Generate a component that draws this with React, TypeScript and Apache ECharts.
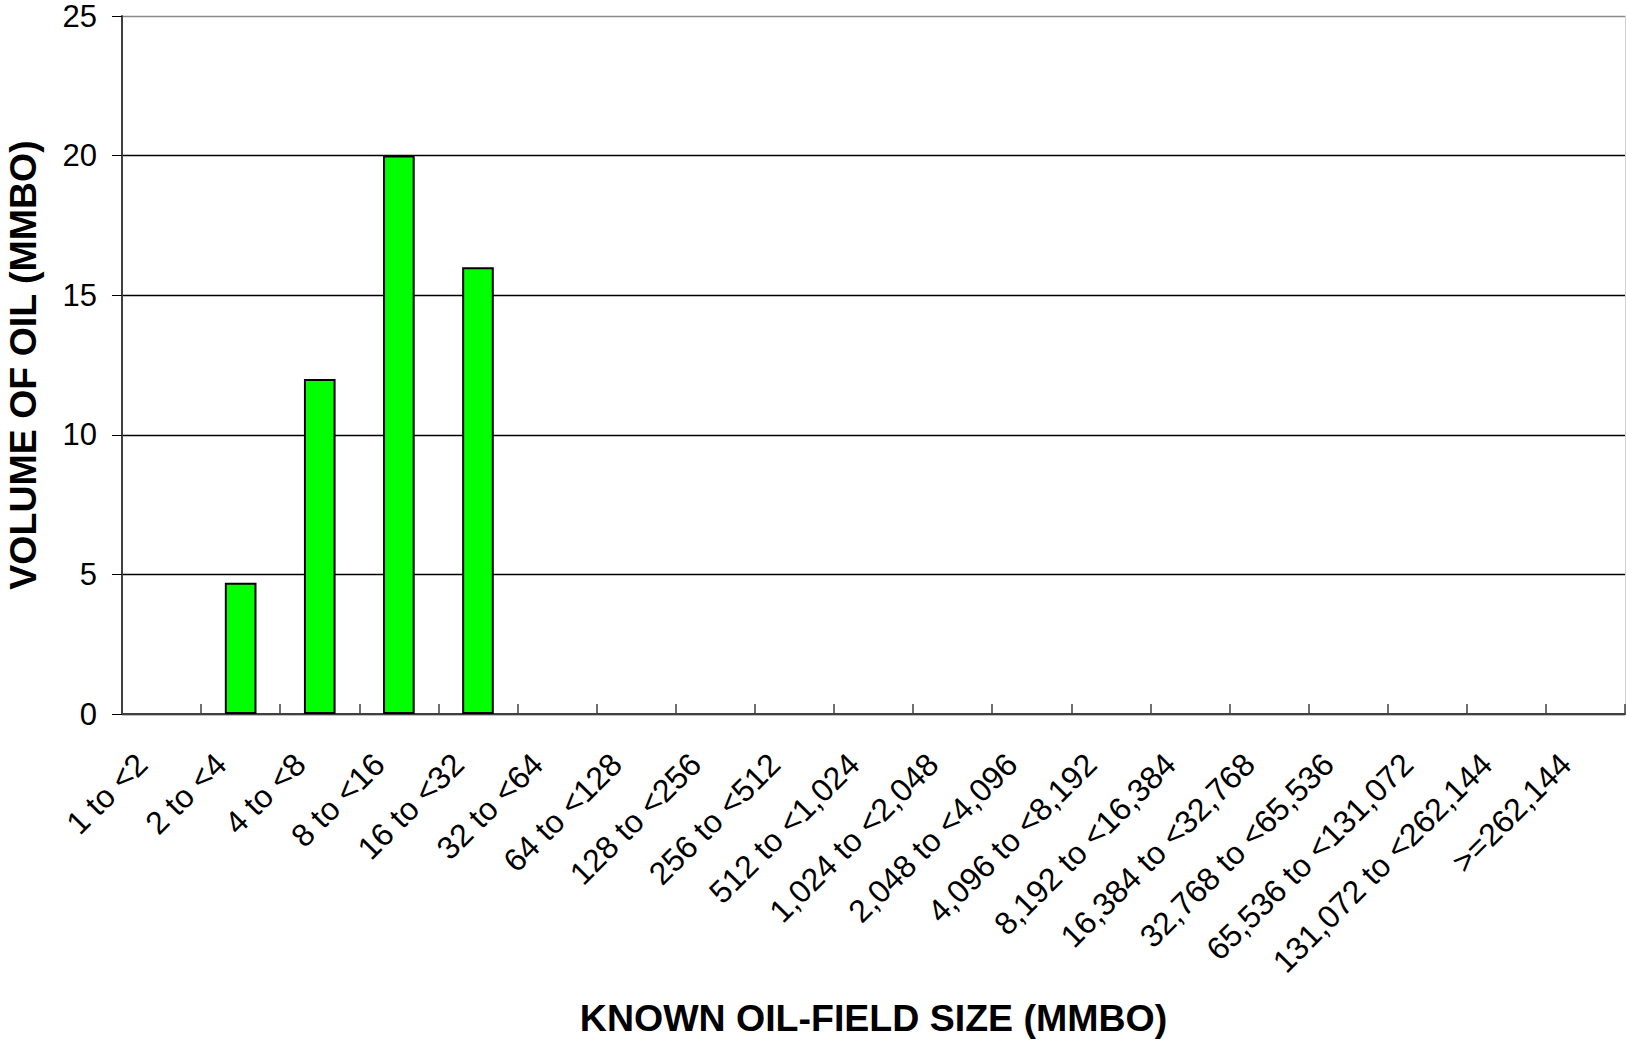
import React, { useEffect, useRef } from "react";
import * as echarts from "echarts";

const categories = [
  "1 to <2", "2 to <4", "4 to <8", "8 to <16", "16 to <32", "32 to <64",
  "64 to <128", "128 to <256", "256 to <512", "512 to <1,024",
  "1,024 to <2,048", "2,048 to <4,096", "4,096 to <8,192",
  "8,192 to <16,384", "16,384 to <32,768", "32,768 to <65,536",
  "65,536 to <131,072", "131,072 to <262,144", ">=262,144",
];
const volumes = [0, 4.7, 12, 20, 16, 0, 0, 0, 0, 0, 0, 0, 0, 0, 0, 0, 0, 0, 0];
const yTicks = { min: 0, max: 25, interval: 5 };
const xTitle = "KNOWN OIL-FIELD SIZE (MMBO)";
const yTitle = "VOLUME OF OIL (MMBO)";

const FONT = "'Liberation Sans', Arial, sans-serif";

export default function App() {
  const ref = useRef<HTMLDivElement>(null);
  useEffect(() => {
    if (!ref.current) return;
    const chart = echarts.init(ref.current, undefined, { renderer: "svg" });
    chart.setOption({
      animation: false,
      backgroundColor: "#ffffff",
      textStyle: { fontFamily: FONT },
      grid: {
        left: 122,
        top: 16,
        right: 1,
        bottom: 326,
        containLabel: false,
        outerBoundsMode: "none",
      },
      xAxis: {
        type: "category",
        data: categories,
        boundaryGap: true,
        name: xTitle,
        nameLocation: "middle",
        nameGap: 285,
        nameTextStyle: { fontFamily: FONT, fontSize: 37.5, fontWeight: "bold", color: "#000" },
        axisLine: { show: true, lineStyle: { color: "#404040", width: 2 } },
        axisTick: { show: true, inside: true, length: 10, alignWithLabel: false, lineStyle: { color: "#404040", width: 1.5 } },
        axisLabel: {
          interval: 0,
          rotate: 45,
          margin: 25,
          padding: [0, 28, 0, 0],
          fontFamily: FONT,
          fontSize: 32,
          color: "#000",
        },
        splitLine: { show: false },
      },
      yAxis: [
        {
          type: "value",
          min: yTicks.min,
          max: yTicks.max,
          interval: yTicks.interval,
          name: yTitle,
          nameLocation: "middle",
          nameRotate: 90,
          nameGap: 80,
          nameTextStyle: { fontFamily: FONT, fontSize: 37.5, fontWeight: "bold", color: "#000" },
          axisLine: { show: true, lineStyle: { color: "#404040", width: 2 } },
          axisTick: { show: true, inside: false, length: 10, lineStyle: { color: "#000", width: 1 } },
          axisLabel: { margin: 25, fontFamily: FONT, fontSize: 31, color: "#000" },
          splitLine: {
            show: true,
            lineStyle: { color: ["#000", "#000", "#000", "#000", "#000", "#8a8a8a"], width: 1.3 },
          },
        },
        {
          type: "value",
          position: "right",
          min: yTicks.min,
          max: yTicks.max,
          interval: yTicks.interval,
          axisLine: { show: true, lineStyle: { color: "#d0d0d0", width: 1 } },
          axisTick: { show: false },
          axisLabel: { show: false },
          splitLine: { show: false },
        },
      ],
      series: [
        {
          type: "bar",
          data: volumes.map((v) => (v === 0 ? null : v)),
          barWidth: "40%",
          itemStyle: { color: "#00ff00", borderColor: "#000", borderWidth: 2 },
        },
      ],
    });
    return () => chart.dispose();
  }, []);
  return (
    <div
      ref={ref}
      style={{ position: "fixed", left: 0, top: 0, width: 1626, height: 1040, background: "#fff" }}
    />
  );
}
